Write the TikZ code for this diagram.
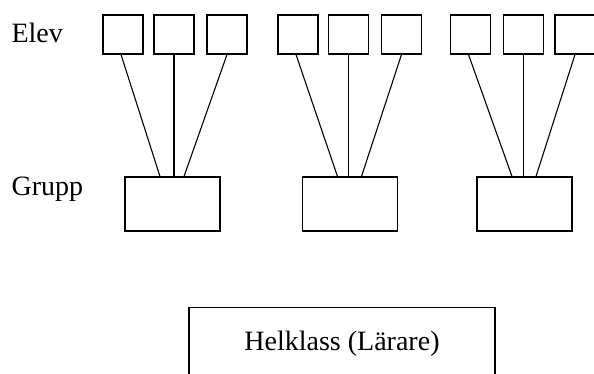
\documentclass[tikz,border=0pt]{standalone}
\usepackage{fontspec}
\setmainfont{Liberation Serif}
\begin{document}
\begin{tikzpicture}[x=1pt,y=-1pt,
  line width=1.1pt,
  font=\fontsize{28}{33}\selectfont,
  elevbox/.style={draw, minimum width=40pt, minimum height=39pt, inner sep=0pt},
  gruppbox/.style={draw, minimum width=95pt, minimum height=54pt, inner sep=0pt},
  rowlabel/.style={anchor=base west, inner sep=0pt},
  link/.style={draw}]
\useasboundingbox (0,0) rectangle (594,374);
\clip (0,0) rectangle (594,374);

% row labels
\node[rowlabel] (lelev) at (11,43) {Elev};
\node[rowlabel] (lgrupp) at (11,196) {Grupp};

% pupils, three per group
\node[elevbox] (e11) at (123,34.5) {};
\node[elevbox] (e12) at (174,34.5) {};
\node[elevbox] (e13) at (227,34.5) {};
\node[elevbox] (e21) at (298,34.5) {};
\node[elevbox] (e22) at (348.5,34.5) {};
\node[elevbox] (e23) at (401.5,34.5) {};
\node[elevbox] (e31) at (470.5,34.5) {};
\node[elevbox] (e32) at (523.5,34.5) {};
\node[elevbox] (e33) at (575,34.5) {};

% groups
\node[gruppbox] (g1) at (172.5,204) {};
\node[gruppbox] (g2) at (350,204) {};
\node[gruppbox] (g3) at (524.5,204) {};

% pupil-to-group links: outer ones slant in, the middle one drops straight down
\foreach \g in {1,2,3}{
  \draw[link] ([xshift=-2pt]e\g1.south) -- ([xshift=-12.5pt]g\g.north);
  \draw[link] (e\g2.south) -- (e\g2.south |- g\g.north);
  \draw[link] (e\g3.south) -- ([xshift=11.5pt]g\g.north);
}

% whole class
\node[draw, anchor=north, minimum width=306pt, inner xsep=0pt, inner ysep=20pt,
      text height=23pt, text depth=20pt] (hk) at (342,307) {Helklass (Lärare)};
\end{tikzpicture}
\end{document}
